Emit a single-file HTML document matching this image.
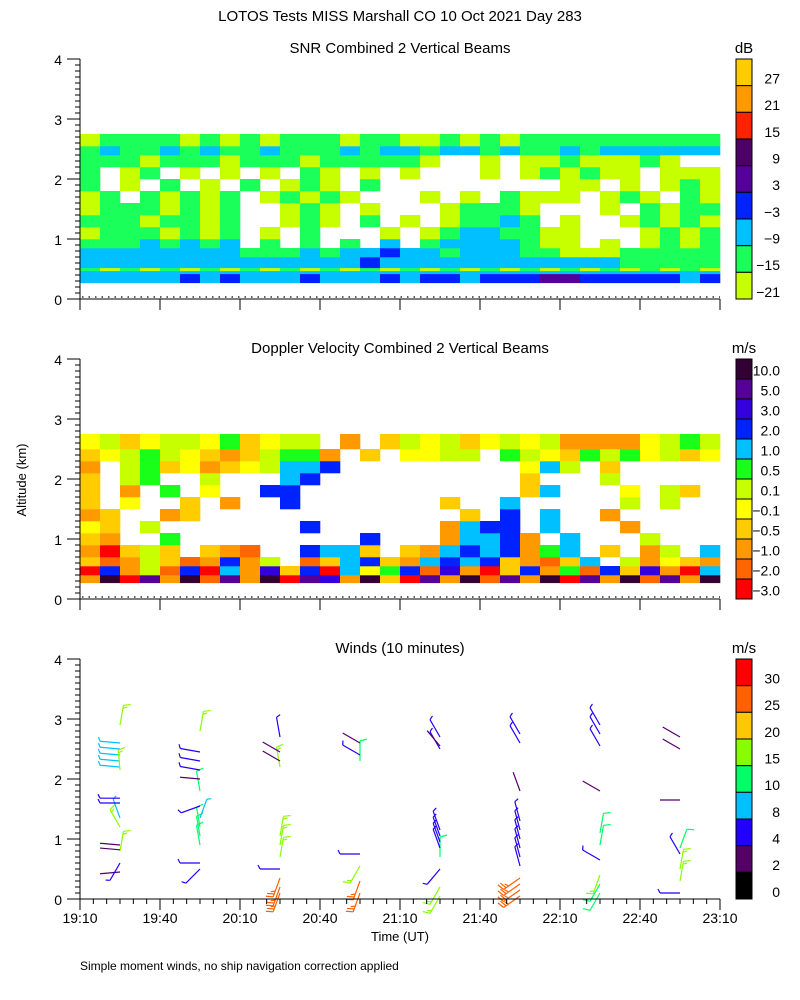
<!DOCTYPE html>
<html><head><meta charset="utf-8">
<style>
html,body{margin:0;padding:0;background:#fff;}
svg{display:block;font-family:"Liberation Sans",sans-serif;}
</style></head>
<body>
<svg id="fig" width="800" height="1000" xmlns="http://www.w3.org/2000/svg">
<text x="400" y="21" font-size="15" text-anchor="middle">LOTOS Tests MISS Marshall CO  10 Oct 2021 Day 283</text>
<text x="400" y="53" font-size="15" text-anchor="middle">SNR Combined 2 Vertical Beams</text>
<text x="400" y="353" font-size="15" text-anchor="middle">Doppler Velocity Combined 2 Vertical Beams</text>
<text x="400" y="653" font-size="15" text-anchor="middle">Winds (10 minutes)</text>
<text x="26" y="480" font-size="13" text-anchor="middle" transform="rotate(-90 26 480)">Altitude (km)</text>
<text x="400" y="941" font-size="13" text-anchor="middle">Time (UT)</text>
<text x="80" y="970" font-size="12">Simple moment winds, no ship navigation correction applied</text>
</svg>
<script>
// ---------- data ----------
const xTickLabels = ["19:10","19:40","20:10","20:40","21:10","21:40","22:10","22:40","23:10"];
const yTickLabels = ["0","1","2","3","4"];
const snrLevels = ["27","21","15","9","3","\u22123","\u22129","\u221215","\u221221"];
const snrColors = ["#c8ff00","#1aff5a","#00c0ff","#0022ff","#550099","#4d0066","#ff2200","#ff9900","#ffcc00"];
const velLevels = ["10.0","5.0","3.0","2.0","1.0","0.5","0.1","\u22120.1","\u22120.5","\u22121.0","\u22122.0","\u22123.0"];
const velColors = ["#ff0000","#ff6600","#ff9900","#ffcc00","#ffff00","#c8ff00","#1aff1a","#00c0ff","#0022ff","#3300dd","#550099","#330033"];
const windLevels = ["30","25","20","15","10","8","4","2","0"];
const windBins = [0,2,4,8,10,15,20,25,30];
const windColors = ["#000000","#550066","#2200ff","#00c0ff","#00ff66","#88ff00","#ffc800","#ff6000","#ff0000"];
// SNR grid: altitude edges (km) and rows (bottom->top), 32 columns of 7.5 min
const snrAltEdges = [0.27,0.42,0.47,0.52,0.7,0.85,1.0,1.2,1.4,1.6,1.8,2.0,2.2,2.4,2.55,2.75];
const snrRows = [
"22222323222322232332333443333323",
"22222222222222222222222222222222",
"10101010101010101010101010101010",
"22222222222222322222222222211111",
"22222222111212232212221100011111",
"11121212.1.1.1.2.12222100.0.0101",
"01110101.0.1...0.01221100...0101",
"11101101..010.1.0.01121.0..01010",
"01110101..010.0...01110...0.1011",
"01.10101.01010...0.0.1000.010.10",
"1.0.1.0.1.010.1.........00.0.010",
"1.01.0.0.0.10.0.0...0.010100.000",
"111011101110111110..0.00100010..",
"12112121121112122122121121222222",
"01111010101110110010101111111111"];
// Velocity grid
const velAltEdges = [0.27,0.4,0.55,0.7,0.9,1.1,1.3,1.5,1.7,1.9,2.1,2.3,2.5,2.75];
const velRows = [
"2b0a2b1a2b0a92b30a2b1a2b0a2b1a2b",
"08251807293807468192038261839207",
"3125312825.137832787832137.52432",
"20353.321..8773.327878267.3.25.7",
"32..6.........8...27782.7...5...",
"43.5.......8......2788.7...2....",
"23..23.............3.8.7..2.....",
"3.4..3.2..8.......3..7.....5.5..",
"3.2.6.4..88...........37...4.53.",
"3.56..5...78..........3...5.....",
"2.56342345778.........475.3.....",
"3456543235662.3.4455.65436564534",
"453455463455.2.35453454522224565"];
// Winds: time (min after 19:10), altitude (km), speed (m/s), direction (deg from)
const windTime = [15,15,15,15,15,15,15,15,15,15,15,15,15,15,15,15,
 45,45,45,45,45,45,45,45,45,45,45,45,45,
 75,75,75,75,75,75,75,75,75,75,75,
 105,105,105,105,105,105,105,
 135,135,135,135,135,135,135,135,135,135,135,
 165,165,165,165,165,165,165,165,165,165,165,165,165,
 195,195,195,195,195,195,195,195,195,195,
 225,225,225,225,225,225,225,225];
const windAlt = [0.45,0.6,0.8,0.82,0.9,1.2,1.35,1.6,1.68,2.2,2.3,2.4,2.5,2.6,2.15,2.9,
 0.5,0.6,0.9,1.05,1.2,1.35,1.55,1.8,2.0,2.15,2.3,2.45,2.8,
 0.1,0.2,0.35,0.5,0.7,0.9,1.05,2.2,2.3,2.45,2.7,
 0.1,0.3,0.55,0.75,2.3,2.4,2.6,
 0.05,0.2,0.5,0.7,0.85,0.95,1.05,1.15,2.5,2.55,2.7,
 0.05,0.15,0.25,0.35,0.55,0.7,0.85,1.0,1.15,1.3,1.8,2.6,2.75,
 0.1,0.25,0.4,0.65,0.9,1.1,1.8,2.55,2.75,2.9,
 0.1,0.3,0.5,0.75,0.85,1.65,2.5,2.7];
const windSpd = [3,6,16,3,3,16,9,6,6,9,9,9,9,9,17,17,
 6,6,12,12,12,9,6,12,3,6,6,6,17,
 26,26,26,5,17,17,17,16,3,3,6,
 26,26,16,5,12,6,3,
 16,16,6,12,6,6,6,6,6,3,6,
 26,26,26,26,6,6,6,6,6,6,3,6,6,
 12,12,16,6,12,12,3,6,6,6,
 6,16,16,6,12,3,3,3];
const windDir = [265,210,10,275,275,330,340,270,270,275,275,275,275,275,355,10,
 225,270,350,350,350,20,250,350,275,280,280,280,10,
 200,200,200,270,10,10,10,350,300,300,350,
 200,200,210,270,0,300,300,
 210,210,220,0,340,340,340,340,330,320,330,
 235,235,235,235,345,345,345,345,345,345,340,330,330,
 210,210,200,300,10,10,300,330,330,330,
 270,10,10,330,20,270,300,300];

// ---------- helpers ----------
const svg = document.getElementById('fig');
const NS = 'http://www.w3.org/2000/svg';
function mk(tag, attrs, parent){const e=document.createElementNS(NS,tag);for(const k in attrs)e.setAttribute(k,attrs[k]);(parent||svg).appendChild(e);return e;}
const X0=80, X1=720, TMIN=0, TMAX=240;
function xScale(t){return X0+(t-TMIN)/(TMAX-TMIN)*(X1-X0);}
function yScale(base,a){return base-a*60;}
const panels=[{base:299,minor:false,name:'snr'},{base:599,minor:false,name:'velocity'},{base:899,minor:true,name:'winds'}];

// ---------- heatmaps ----------
function drawGrid(base, edges, rows, colors, nm){
  const g=mk('g',{});
  
  
  const nCols=32, dt=(TMAX-TMIN)/nCols;
  for(let r=0;r<rows.length;r++){
    const y0=yScale(base,edges[r+1]), y1=yScale(base,edges[r]);
    for(let c=0;c<rows[r].length&&c<nCols;c++){
      const ch=rows[r][c]; if(ch==='.')continue;
      const v=parseInt(ch,16); if(isNaN(v)||v>=colors.length)continue;
      const xa=xScale(c*dt), xb=xScale((c+1)*dt);
      const rc=mk('rect',{x:xa,y:y0,width:xb-xa+0.3,height:y1-y0+0.3,fill:colors[v]},g);
      
      
    }
  }
}
drawGrid(299, snrAltEdges, snrRows, snrColors, 'snr');
drawGrid(599, velAltEdges, velRows, velColors, 'velocity');

// ---------- wind barbs ----------
function windColor(s){let i=0;for(let k=0;k<windBins.length;k++)if(s>=windBins[k])i=k;return windColors[i];}
const wg=mk('g',{});


for(let i=0;i<windTime.length;i++){
  const x=xScale(windTime[i]), y=yScale(899,windAlt[i]);
  const d=windDir[i]*Math.PI/180, L=20;
  const ux=Math.sin(d), uy=-Math.cos(d);
  const ex=x+ux*L, ey=y+uy*L;
  const col=windColor(windSpd[i]);
  const b=mk('g',{stroke:col,'stroke-width':1.2,fill:'none'},wg);
  
  
  mk('line',{x1:x,y1:y,x2:ex,y2:ey},b);
  let s=windSpd[i], k=0;
  const px=-uy, py=ux;
  while(s>=5 && k<4){
    const full=s>=10, fl=full?7:4;
    const bx=ex-ux*k*3, by=ey-uy*k*3;
    mk('line',{x1:bx,y1:by,x2:bx+px*fl+ux*2,y2:by+py*fl+uy*2},b);
    s-=full?10:5; k++;
  }
}

// ---------- axes ----------
panels.forEach(p=>{
  const g=mk('g',{stroke:'#000','stroke-width':1});
  
  
  mk('line',{x1:80,y1:p.base,x2:80,y2:yScale(p.base,4)},g);
  mk('line',{x1:80,y1:p.base,x2:720,y2:p.base},g);
  for(let i=0;i<=40;i++){
    const y=yScale(p.base,i/10), len=(i%10===0)?13:5;
    mk('line',{x1:80-len,y1:y,x2:80,y2:y},g);
  }
  yTickLabels.forEach((lab,i)=>{
    const t=mk('text',{x:62,y:yScale(p.base,i)+6,'font-size':14,'text-anchor':'end',stroke:'none',fill:'#000'});
    t.textContent=lab;
    
    
  });
  for(let t=0;t<=240;t+=(p.minor?5:30)){
    const x=xScale(t), len=(t%30===0)?11:5;
    mk('line',{x1:x,y1:p.base,x2:x,y2:p.base+len},g);
  }
  if(p.name!=='winds'){
    mk('line',{x1:82,y1:p.base-2,x2:720,y2:p.base-2,'stroke-dasharray':'1.5 5','stroke-width':1.2},g);
  }
});
xTickLabels.forEach((lab,i)=>{
  const t=mk('text',{x:xScale(i*30),y:923,'font-size':14,'text-anchor':'middle'});
  t.textContent=lab;
  
  
});

// ---------- colorbars ----------
function colorbar(top, bottom, levels, colors, unit, nm, labOff){
  const g=mk('g',{});
  
  
  const n=levels.length, h=(bottom-top)/n;
  for(let i=0;i<n;i++){
    const y=top+i*h;
    mk('rect',{x:736,y:y,width:16,height:h,fill:colors[n-1-i],stroke:'#000','stroke-width':1},g);
    const t=mk('text',{x:780,y:y+h*labOff,'font-size':14,'text-anchor':'end'},g);
    t.textContent=levels[i];
    
    
  }
  const u=mk('text',{x:744,y:top-6,'font-size':15,'text-anchor':'middle'},g);
  u.textContent=unit;
  
  
}
colorbar(59,299,snrLevels,snrColors,'dB','snr',0.92);
colorbar(359,599,velLevels,velColors,'m/s','velocity',0.82);
colorbar(659,899,windLevels,windColors,'m/s','winds',0.92);
</script>
</body></html>
